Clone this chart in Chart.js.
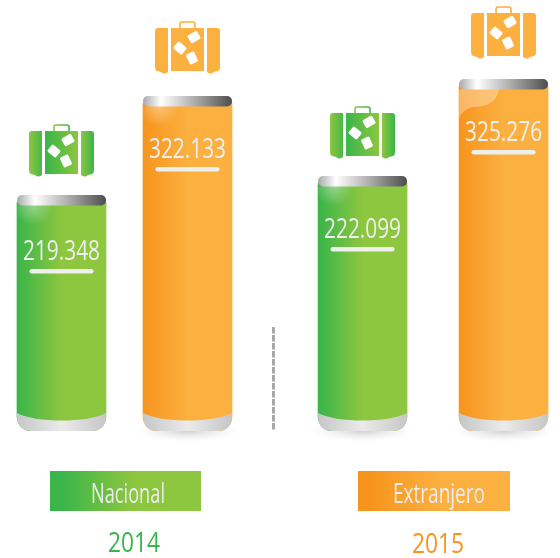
<!DOCTYPE html>
<html><head><meta charset="utf-8">
<style>html,body{margin:0;padding:0;background:#fff}canvas{display:block}</style>
<script src="https://cdn.jsdelivr.net/npm/chart.js@4"></script>
</head><body><canvas id="c" width="560" height="558"></canvas>
<script>
const years = ['2014', '2015'];
const seriesNames = ['Nacional', 'Extranjero'];
const nacional = [219348, 222099];
const extranjero = [322133, 325276];
const valueLabels = ['219.348', '322.133', '222.099', '325.276'];

// layout (axis units, not data)
const xSlots = [0, 1, 2.389, 3.508];
const palette = {
  green: ['#39b54a', '#8dc63f'],
  orange: ['#f7941d', '#fbb040']
};
const FACE = '"Open Sans",sans-serif';
const labelDrop = [65, 62, 62, 62];
const iconGap = [18, 22, 17, 20];
const shadowFor = [false, true, true, true];

function slotOf(ds, i) { return ds * 2 + i; }
function kindOf(slot) { return slot % 2 === 0 ? 'green' : 'orange'; }

function barFill(ctx) {
  if (ctx.type !== 'data' || !ctx.chart.chartArea) return '#8dc63f';
  const slot = slotOf(ctx.datasetIndex, ctx.dataIndex);
  const cx = ctx.chart.scales.x.getPixelForValue(xSlots[slot]);
  const g = ctx.chart.ctx.createLinearGradient(cx - 44.5, 0, cx + 44.5, 0);
  const p = palette[kindOf(slot)];
  g.addColorStop(0, p[0]); g.addColorStop(0.5, p[1]); g.addColorStop(1, p[1]);
  return g;
}

function rr(c, x, y, w, h, r) { c.beginPath(); c.roundRect(x, y, w, h, r); }

// condensed text: draws centred at cx, squeezed to the target width
function fitText(c, text, cx, y, size, width, weight) {
  c.save();
  c.font = (weight || 400) + ' ' + size + 'px ' + FACE;
  c.textAlign = 'center'; c.textBaseline = 'alphabetic';
  const sx = width / c.measureText(text).width;
  c.translate(cx, y); c.scale(sx, 1);
  c.fillText(text, 0, 0);
  c.restore();
}

function drawCase(c, cx, bottom, kind) {
  const L = cx - 32.5, T = bottom - 54;
  const hg = (a, b, x0, x1) => { const g = c.createLinearGradient(x0, 0, x1, 0); g.addColorStop(0, a); g.addColorStop(1, b); return g; };
  const p = palette[kind];
  const flat = kind === 'orange';
  const a = flat ? p[1] : p[0], b = p[1];
  // handle
  c.strokeStyle = flat ? p[1] : hg(b, a, L + 24, L + 41); c.lineWidth = 1.6;
  c.beginPath(); c.moveTo(L + 25, T + 8); c.lineTo(L + 25, T + 4); c.quadraticCurveTo(L + 25, T + 2, L + 27, T + 2);
  c.lineTo(L + 38, T + 2); c.quadraticCurveTo(L + 40, T + 2, L + 40, T + 4); c.lineTo(L + 40, T + 8); c.stroke();
  // side panels
  c.fillStyle = flat ? p[1] : hg(b, a, L, L + 16);
  c.beginPath(); c.moveTo(L + 3, T + 8); c.lineTo(L + 13, T + 8); c.lineTo(L + 13, T + 52);
  c.quadraticCurveTo(L + 9, T + 55, L + 6, T + 52); c.lineTo(L + 2, T + 51); c.quadraticCurveTo(L, T + 50, L, T + 47);
  c.lineTo(L, T + 11); c.quadraticCurveTo(L, T + 8, L + 3, T + 8); c.fill();
  c.fillStyle = flat ? p[1] : hg(b, a, L + 52, L + 65);
  c.beginPath(); c.moveTo(L + 62, T + 8); c.lineTo(L + 52, T + 8); c.lineTo(L + 52, T + 52);
  c.quadraticCurveTo(L + 56, T + 55, L + 59, T + 52); c.lineTo(L + 63, T + 51); c.quadraticCurveTo(L + 65, T + 50, L + 65, T + 47);
  c.lineTo(L + 65, T + 11); c.quadraticCurveTo(L + 65, T + 8, L + 62, T + 8); c.fill();
  // body
  c.fillStyle = flat ? p[1] : hg(a, b, L + 16, L + 49);
  c.fillRect(L + 16, T + 8, 33, 43);
  // stickers
  c.fillStyle = '#fff';
  [[39, 17, -30, 11, 9], [25, 28, 40, 11, 9], [37, 38, -25, 9, 11]].forEach(s => {
    c.save(); c.translate(L + s[0], T + s[1]); c.rotate(s[2] * Math.PI / 180);
    rr(c, -s[3] / 2, -s[4] / 2, s[3], s[4], 1.5); c.fill(); c.restore();
  });
}

const decor = {
  id: 'decor',
  beforeDatasetsDraw(chart) {
    const c = chart.ctx;
    const bottom = chart.chartArea.bottom;
    // ground shadows
    chart.data.datasets.forEach((d, ds) => chart.getDatasetMeta(ds).data.forEach((bar, i) => {
      if (!shadowFor[slotOf(ds, i)]) return;
      c.save();
      c.translate(bar.x, bottom); c.scale(1, 11 / 52);
      const g = c.createRadialGradient(0, 0, 0, 0, 0, 52);
      g.addColorStop(0, 'rgba(170,170,170,.55)'); g.addColorStop(1, 'rgba(220,220,220,0)');
      c.fillStyle = g; c.beginPath(); c.arc(0, 0, 52, 0, Math.PI * 2); c.fill();
      c.restore();
    }));
  },
  afterDatasetsDraw(chart) {
    const c = chart.ctx;
    chart.data.datasets.forEach((d, ds) => chart.getDatasetMeta(ds).data.forEach((bar, i) => {
      const slot = slotOf(ds, i);
      const hw = 44.5, x0 = bar.x - hw, x1 = bar.x + hw, top = bar.y, base = bar.base;
      // silver foot
      let g = c.createLinearGradient(x0, 0, x1, 0);
      g.addColorStop(0, '#c6c6c6'); g.addColorStop(0.5, '#ebebeb'); g.addColorStop(1, '#c6c6c6');
      c.fillStyle = g;
      c.beginPath(); c.moveTo(x0, base - 18);
      c.bezierCurveTo(x0 + 18, base - 8, x1 - 18, base - 8, x1, base - 18);
      c.lineTo(x1, base - 15); c.quadraticCurveTo(x1, base, x1 - 15, base);
      c.lineTo(x0 + 15, base); c.quadraticCurveTo(x0, base, x0, base - 15); c.closePath(); c.fill();
      // gloss
      c.save();
      rr(c, x0, top + 10, 89, 60, [3, 3, 0, 0]); c.clip();
      if (slot === 3) {
        c.fillStyle = 'rgba(255,255,255,.32)';
        c.beginPath(); c.moveTo(x0, top + 40); c.quadraticCurveTo(x0 + 3, top + 30, x0 + 14, top + 28);
        c.quadraticCurveTo(x0 + 38, top + 28, x0 + 40, top + 9); c.lineTo(x0, top + 9); c.closePath(); c.fill();
      } else {
        g = c.createRadialGradient(x0 + 16, top + 10, 0, x0 + 16, top + 10, 20);
        g.addColorStop(0, 'rgba(255,255,255,.38)'); g.addColorStop(1, 'rgba(255,255,255,0)');
        c.fillStyle = g; c.fillRect(x0, top + 10, 50, 30);
      }
      c.restore();
      // cap: white backing hides the bar's corners
      c.fillStyle = '#fff'; c.fillRect(x0 - 1, top - 1, 91, 8);
      g = c.createLinearGradient(x0, 0, x1, 0);
      g.addColorStop(0, '#a9a9a9'); g.addColorStop(0.2, '#ffffff'); g.addColorStop(0.6, '#a8a8a8'); g.addColorStop(1, '#4d4d4d');
      c.fillStyle = g; rr(c, x0, top, 89, 10.5, 5); c.fill();
      // value label and rule
      c.fillStyle = '#efefef';
      fitText(c, valueLabels[slot], bar.x, top + labelDrop[slot], 28, 77);
      rr(c, bar.x - 32, top + labelDrop[slot] + 9, 64, 4.5, 2.2); c.fill();
      // suitcase
      drawCase(c, bar.x, top - iconGap[slot], kindOf(slot));
    }));
    // divider
    c.fillStyle = '#a7a9ac';
    for (let y = 327; y < 431; y += 8) c.fillRect(272, y, 3, 6.5);
    // legend
    [[50, 151, 'green', 0, 128, 74], [358, 152, 'orange', 1, 439, 92]].forEach(l => {
      const g = c.createLinearGradient(l[0], 0, l[0] + l[1], 0);
      const p = palette[l[2]];
      g.addColorStop(0.07, p[0]); g.addColorStop(0.55, p[1]); g.addColorStop(1, p[1]);
      c.fillStyle = g; c.fillRect(l[0], 471, l[1], 40);
      c.fillStyle = '#ececec';
      fitText(c, seriesNames[l[3]], l[4], 503, 28, l[5]);
    });
    // years
    c.fillStyle = palette.green[0]; fitText(c, years[0], 134, 552, 27, 52, 500);
    c.fillStyle = palette.orange[0]; fitText(c, years[1], 438, 553, 27, 52, 500);
  }
};

const pairs = yr => [
  { x: xSlots[yr * 2], y: nacional[yr] },
  { x: xSlots[yr * 2 + 1], y: extranjero[yr] }
];
const y14 = { min: -25700, max: 421900 };
const y15 = { min: -49200, max: 409300 };
const barStyle = { barThickness: 89, grouped: false, backgroundColor: barFill, borderWidth: 0,
  borderSkipped: false, borderRadius: { topLeft: 3, topRight: 3, bottomLeft: 15, bottomRight: 15 } };

new Chart(document.getElementById('c'), {
  type: 'bar',
  data: {
    datasets: [
      { label: years[0], data: pairs(0), yAxisID: 'y14', base: y14.min, ...barStyle },
      { label: years[1], data: pairs(1), yAxisID: 'y15', base: y15.min, ...barStyle }
    ]
  },
  options: {
    responsive: false,
    animation: false,
    layout: { padding: { top: 0, bottom: 127, left: 0, right: 0 } },
    scales: {
      x: { type: 'linear', display: false, offset: false, min: -0.488, max: 3.956 },
      y14: { type: 'linear', display: false, min: y14.min, max: y14.max },
      y15: { type: 'linear', display: false, min: y15.min, max: y15.max }
    },
    plugins: { legend: { display: false }, tooltip: { enabled: false }, colors: { enabled: false } }
  },
  plugins: [decor]
});
</script></body></html>
